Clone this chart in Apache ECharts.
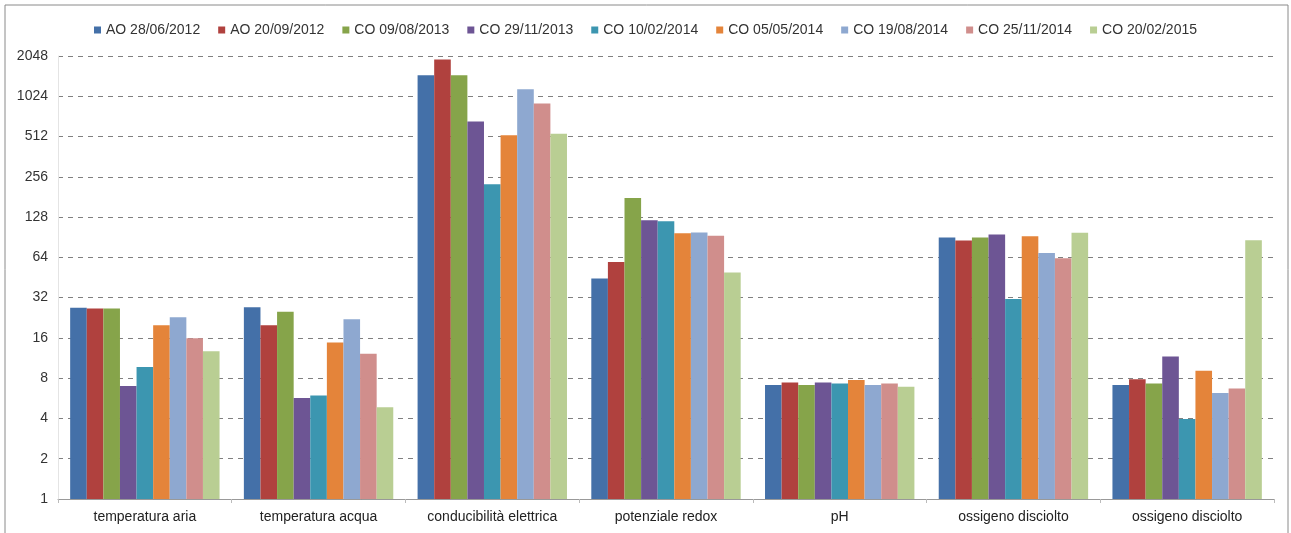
<!DOCTYPE html>
<html>
<head>
<meta charset="utf-8">
<script src="https://cdn.jsdelivr.net/npm/echarts@6/dist/echarts.min.js"></script>
<style>html,body{margin:0;padding:0;background:#fff}#c{width:1291px;height:533px}</style>
</head>
<body>
<div id="c"></div>
<script>
const categories = ['temperatura aria','temperatura acqua','conducibilità elettrica','potenziale redox','pH','ossigeno disciolto','ossigeno disciolto'];
const seriesNames = ['AO 28/06/2012','AO 20/09/2012','CO 09/08/2013','CO 29/11/2013','CO 10/02/2014','CO 05/05/2014','CO 19/08/2014','CO 25/11/2014','CO 20/02/2015'];
const colors = ['#4470A8','#B0413E','#86A44A','#6D5594','#3C96B0','#E4843A','#8EA8D0','#D08E8C','#B9CE93'];
const s1 = [26.9, 27.1, 1469, 44.5, 7.1, 90, 7.1];
const s2 = [26.5, 19.9, 1925, 59.2, 7.44, 85.6, 7.84];
const s3 = [26.5, 25.1, 1469, 178, 7.1, 90, 7.3];
const s4 = [7.0, 5.7, 662, 121, 7.44, 95, 11.6];
const s5 = [9.7, 5.95, 225, 119, 7.31, 31.2, 3.96];
const s6 = [19.9, 14.8, 524, 97, 7.74, 92, 9.08];
const s7 = [22.8, 22.1, 1155, 98, 7.1, 69, 6.2];
const s8 = [15.9, 12.2, 903, 92.7, 7.3, 63, 6.7];
const s9 = [12.7, 4.86, 538, 49.4, 6.9, 97.6, 86];
const allData = [s1,s2,s3,s4,s5,s6,s7,s8,s9];

const chart = echarts.init(document.getElementById('c'));
chart.setOption({
  animation: false,
  color: colors,
  textStyle: {fontFamily: 'Liberation Sans, Arial, sans-serif'},
  graphic: [{type:'rect', shape:{x:5,y:5,width:1283,height:540}, style:{fill:'none', stroke:'#8a8a8a', lineWidth:1}, silent:true}],
  legend: {
    top: 18, left: 'center', icon: 'rect', itemWidth: 7, itemHeight: 7, itemGap: 18,
    textStyle: {fontSize: 14, color: '#333', fontFamily: 'Liberation Sans, Arial, sans-serif'},
    data: seriesNames
  },
  grid: {left: 58, right: 17, top: 56, bottom: 34},
  xAxis: {
    type: 'category', data: categories,
    axisLine: {lineStyle: {color: '#999'}},
    axisTick: {show: true, length: 4, lineStyle: {color: '#bbb'}},
    axisLabel: {fontSize: 14, color: '#222', margin: 11}
  },
  yAxis: {
    type: 'log', logBase: 2, min: 1, max: 2048, interval: 1,
    axisLine: {show: true, lineStyle: {color: '#e4e4e4'}},
    axisTick: {show: false},
    axisLabel: {fontSize: 14, color: '#333', margin: 10, formatter: v => String(Math.round(v))},
    splitLine: {lineStyle: {type: [5, 5], color: '#808080', width: 1}}
  },
  series: seriesNames.map((n, i) => ({
    name: n, type: 'bar', data: allData[i], barGap: '0%', barCategoryGap: '14%'
  }))
});
</script>
</body>
</html>
